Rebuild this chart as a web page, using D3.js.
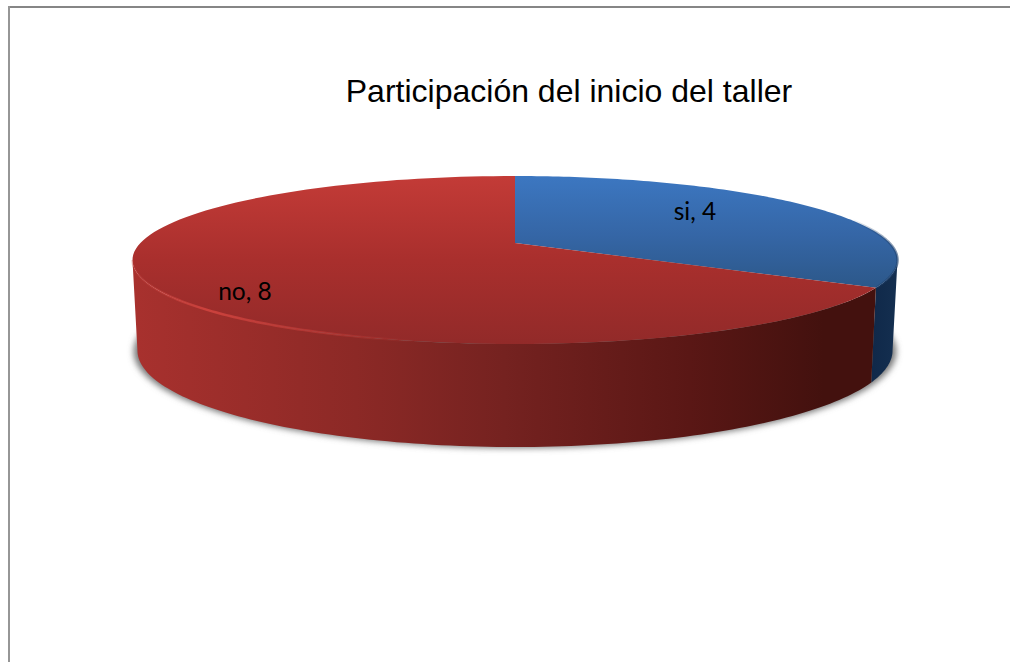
<!DOCTYPE html>
<html lang="es">
<head>
<meta charset="UTF-8" />
<title>Participación del inicio del taller</title>
<script src="https://cdn.jsdelivr.net/npm/d3@7"></script>
<style>
  html, body { margin: 0; padding: 0; background: #fff; overflow: hidden; }
  svg { display: block; }
</style>
</head>
<body>
<div id="chart"></div>
<script>
var categories = ["si", "no"];
var values = [4, 8];
var chartTitle = "Participación del inicio del taller";

var width = 1010, height = 662;

// pie geometry, fitted to the tilted disc
var cx = 515, cy = 243;
var tilt = 0.2024, ax = 374.6, ay = 80.56;
var bottomShrink = 0.987;

var svg = d3.select("#chart").append("svg")
  .attr("width", width)
  .attr("height", height);

var defs = svg.append("defs");

function linearGrad(id, x1, y1, x2, y2, stops) {
  var g = defs.append("linearGradient")
    .attr("id", id)
    .attr("gradientUnits", "userSpaceOnUse")
    .attr("x1", x1).attr("y1", y1).attr("x2", x2).attr("y2", y2);
  stops.forEach(function(s) {
    g.append("stop").attr("offset", s[0]).attr("stop-color", s[1]).attr("stop-opacity", s[2] === undefined ? 1 : s[2]);
  });
}

linearGrad("topRed", 0, 176, 0, 344, [[0, "#c33b37"], [0.5, "#a92f2d"], [1, "#922a29"]]);
linearGrad("topBlue", 0, 176, 0, 294, [[0, "#3c77c1"], [0.5, "#3566a6"], [1, "#2b5686"]]);
linearGrad("wallRed", 133, 0, 875, 0, [[0, "#a8312e"], [0.3, "#8c2926"], [0.5, "#752220"], [0.75, "#5a1715"], [0.93, "#43110e"], [1, "#43110e"]]);
linearGrad("wallBlue", 874, 0, 898, 0, [[0, "#10294a"], [1, "#142f50"]]);
linearGrad("rim", 133, 0, 420, 0, [[0, "#c9403b", 0.2], [0.25, "#cf423d", 0.95], [0.7, "#c53c38", 0.5], [1, "#c53c38", 0]]);
linearGrad("rimBlue", 850, 0, 898, 0, [[0, "#1d3f6b", 0], [1, "#1d3f6b", 0.6]]);

defs.append("filter")
  .attr("id", "blur")
  .attr("x", "-5%").attr("y", "-15%").attr("width", "110%").attr("height", "130%")
  .append("feGaussianBlur").attr("stdDeviation", 3);

// circle to tilted disc, angle as given by d3.pie (0 = back, clockwise)
function project(angle, r) {
  var u = r * Math.sin(angle), v = -r * Math.cos(angle);
  var w = 1 - tilt * v;
  return [cx + ax * u / w, cy + ay * v / w];
}

// wall gets taller toward the viewer: 103 at the front, about 91 at the sides
function lower(p) {
  return [cx + (p[0] - cx) * bottomShrink, p[1] + 88 + 15 * (p[1] - cy) / 101];
}

function arcPoints(a0, a1) {
  return d3.range(0, 121).map(function(i) {
    return project(a0 + (a1 - a0) * i / 120, 1);
  });
}

var line = d3.line();

var pie = d3.pie().sort(null);
var slices = pie(values);
var topFills = ["url(#topBlue)", "url(#topRed)"];
var wallFills = ["url(#wallBlue)", "url(#wallRed)"];

// angle where the disc's outline is widest, walls start there
var rightTurn = Math.acos(-tilt);
var leftTurn = 2 * Math.PI - rightTurn;

// shadow under the base
var base = arcPoints(0, 2 * Math.PI).map(lower);
svg.append("path")
  .attr("d", line(base.map(function(p) {
    return [cx + (p[0] - cx) * 1.01, p[1] + 1];
  })) + "Z")
  .attr("fill", "#777")
  .attr("filter", "url(#blur)");

// side walls, only the part facing the viewer
svg.selectAll(".wall")
  .data(slices)
  .enter()
  .append("path")
  .attr("class", "wall")
  .attr("fill", function(d, i) { return wallFills[i]; })
  .attr("d", function(d) {
    var a0 = Math.max(d.startAngle, rightTurn);
    var a1 = Math.min(d.endAngle, leftTurn);
    var upper = arcPoints(a0, a1);
    return line(upper.concat(upper.slice().reverse().map(lower))) + "Z";
  });

// top face
svg.selectAll(".face")
  .data(slices)
  .enter()
  .append("path")
  .attr("class", "face")
  .attr("fill", function(d, i) { return topFills[i]; })
  .attr("d", function(d) {
    return line([[cx, cy]].concat(arcPoints(d.startAngle, d.endAngle))) + "Z";
  });

// bevel along the front edge of the top face
svg.append("path")
  .attr("d", line(arcPoints(slices[1].startAngle + 0.9, leftTurn)))
  .attr("fill", "none")
  .attr("stroke", "url(#rim)")
  .attr("stroke-width", 2.5);

svg.append("path")
  .attr("d", line(arcPoints(rightTurn - 0.5, slices[0].endAngle)))
  .attr("fill", "none")
  .attr("stroke", "url(#rimBlue)")
  .attr("stroke-width", 2.5);

// frame, top and left only
svg.append("rect").attr("x", 8).attr("y", 6).attr("width", width - 8).attr("height", 2).attr("fill", "#868686");
svg.append("rect").attr("x", 8).attr("y", 6).attr("width", 2).attr("height", height - 6).attr("fill", "#969696");

svg.append("text")
  .attr("x", 569)
  .attr("y", 102)
  .attr("text-anchor", "middle")
  .attr("font-family", "'Liberation Sans', Arial, sans-serif")
  .attr("font-size", 32)
  .attr("fill", "#000")
  .text(chartTitle);

// label anchors as [x, baseline]
var labelPos = [[695, 220], [245, 300]];

svg.selectAll(".label")
  .data(slices)
  .enter()
  .append("text")
  .attr("class", "label")
  .attr("x", function(d, i) { return labelPos[i][0]; })
  .attr("y", function(d, i) { return labelPos[i][1]; })
  .attr("text-anchor", "middle")
  .attr("font-family", "Lato, 'Open Sans', sans-serif")
  .attr("font-size", 24.5)
  .attr("fill", "#000")
  .text(function(d, i) { return categories[i] + ", " + d.value; });
</script>
</body>
</html>
